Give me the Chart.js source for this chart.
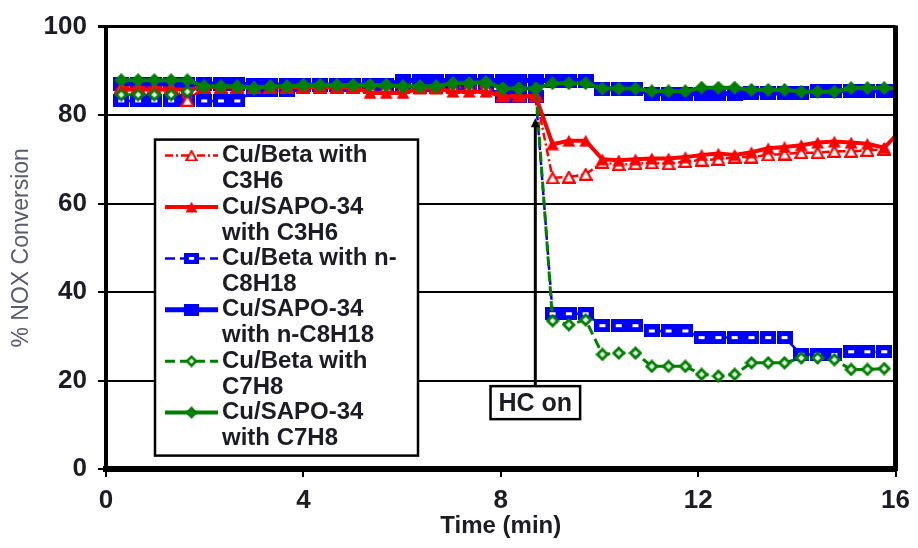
<!DOCTYPE html>
<html>
<head>
<meta charset="utf-8">
<script src="https://cdn.jsdelivr.net/npm/chart.js@4.4.1/dist/chart.umd.min.js"></script>
<style>
html,body{margin:0;padding:0;background:#fff;}
#wrap{width:918px;height:548px;}
</style>
</head>
<body>
<div id="wrap"><canvas id="c" width="918" height="548" style="width:918px;height:548px"></canvas></div>
<script>
// ---- data ----
const times = [0.31,0.65,0.98,1.32,1.65,1.99,2.33,2.66,3.0,3.33,3.67,4.0,4.34,4.68,5.01,5.35,5.68,6.02,6.36,6.69,7.03,7.36,7.7,8.04,8.37,8.71,9.05,9.38,9.72,10.06,10.39,10.73,11.06,11.4,11.74,12.07,12.41,12.74,13.08,13.42,13.75,14.09,14.42,14.76,15.1,15.43,15.77,16.1];

const betaC3H6 = [86.3,86.3,86.3,86.3,83.3,86.3,86.3,86.3,86.3,86.3,86.3,86.3,86.3,86.3,86.3,86.3,86.3,86.3,86.3,86.3,86.3,86.3,86.3,84.5,84.5,84.5,
  65.8,66.0,66.6,69.3,68.8,69.0,69.2,69.0,69.5,69.8,70.0,70.5,70.5,71.0,71.2,71.5,71.5,71.8,71.8,72.0,72.3];
const sapoC3H6 = [85.8,85.8,85.8,85.8,85.8,86.3,86.3,86.3,86.3,86.3,86.3,86.3,86.3,86.3,86.3,85.0,85.0,85.0,86.0,86.0,85.3,85.3,85.3,84.2,84.2,84.2,
  73.4,74.2,74.2,70.0,69.8,70.0,70.2,70.2,70.5,71.0,71.3,71.0,71.6,72.5,72.8,73.2,73.8,74.0,73.8,73.5,72.6,76.5];
const betaC8H18 = [83.2,83.2,83.2,83.2,83.2,83.2,83.2,83.2,85.5,85.5,85.5,86.6,86.6,86.6,86.6,86.6,86.6,86.6,86.6,86.6,86.6,86.6,86.6,84.2,84.2,84.2,
  35.1,35.1,35.1,32.4,32.4,32.4,31.2,31.2,31.2,29.7,29.7,29.7,29.7,29.7,29.7,25.9,25.9,25.9,26.5,26.5,26.5];
const sapoC8H18 = [87.0,87.0,87.0,87.0,87.0,87.0,87.0,87.0,86.8,86.8,86.8,86.8,86.8,86.8,86.8,86.8,86.8,87.8,87.8,87.8,87.8,87.8,87.8,87.8,87.8,87.8,
  87.8,87.8,87.8,85.9,85.9,85.9,84.8,84.8,84.8,84.8,84.8,84.8,85.0,85.0,85.0,85.0,85.5,85.5,85.5,85.5,85.5,85.5];
const betaC7H8 = [84.6,84.6,84.6,84.6,85.3,86.4,86.4,86.4,86.0,86.4,86.4,86.7,86.7,86.7,86.7,86.7,86.7,86.4,86.4,86.4,87.1,87.1,87.1,86.0,86.0,86.0,
  33.5,32.6,33.7,25.9,26.2,26.2,23.2,23.2,23.2,21.4,21.0,21.4,24.0,24.0,24.0,25.1,25.1,24.7,22.5,22.5,22.7];
const sapoC7H8 = [87.9,87.9,87.9,87.9,87.9,86.5,86.5,86.5,86.1,86.5,86.5,86.8,86.8,86.8,86.8,86.8,86.8,86.5,86.5,86.5,87.2,87.2,87.5,86.0,86.0,86.0,
  87.2,87.2,87.2,86.0,86.0,86.0,85.4,85.4,85.4,86.2,86.2,86.2,85.7,85.7,85.7,85.3,85.3,85.3,86.1,86.1,86.1,86.0];

const seriesLabels = [
  ['Cu/Beta with','C3H6'],
  ['Cu/SAPO-34','with C3H6'],
  ['Cu/Beta with n-','C8H18'],
  ['Cu/SAPO-34','with n-C8H18'],
  ['Cu/Beta with','C7H8'],
  ['Cu/SAPO-34','with C7H8']
];
const xTicks = [0,4,8,12,16];
const yTicks = [0,20,40,60,80,100];
const hcLabel = 'HC on';
const hcTime = 8.7;      // minutes
const hcArrowTip = 79.3; // % value where the arrow points
const hcBoxCenter = 15;  // % value of the label box centre

// ---- styling / markers ----
const RED='#ff0000', BLUE='#0000ff', GREEN='#008000';
const FONT = "'Liberation Sans', Arial, sans-serif";
const TXT = '#1c1c26';
function pts(vals){ return vals.map((v,i)=>({x:times[i], y:v})); }
function mk(w,h,draw){ const c=document.createElement('canvas'); c.width=w; c.height=h; draw(c.getContext('2d'),w,h); return c; }
const mRedBeta = mk(14,13,(g,w,h)=>{ g.beginPath(); g.moveTo(w/2,1.2); g.lineTo(w-1.2,h-1.2); g.lineTo(1.2,h-1.2); g.closePath(); g.fillStyle='#fff'; g.fill(); g.lineWidth=2.2; g.strokeStyle=RED; g.stroke(); });
const mRedSapo = mk(14,13,(g,w,h)=>{ g.beginPath(); g.moveTo(w/2,0.5); g.lineTo(w-0.5,h-0.5); g.lineTo(0.5,h-0.5); g.closePath(); g.fillStyle=RED; g.fill(); });
const mBlueBeta = mk(16,13,(g,w,h)=>{ g.fillStyle=BLUE; g.fillRect(0,0,w,h); g.fillStyle='#fff'; g.fillRect(5,5,6,3); });
const mBlueSapo = mk(16,14,(g,w,h)=>{ g.fillStyle=BLUE; g.fillRect(0,0,w,h); });
const mGreenBeta = mk(14,14,(g,w,h)=>{ g.beginPath(); g.moveTo(0,h/2); g.lineTo(w/2,0); g.lineTo(w,h/2); g.lineTo(w/2,h); g.closePath(); g.fillStyle=GREEN; g.fill();
  g.beginPath(); g.moveTo(4,h/2); g.lineTo(w/2,4); g.lineTo(w-4,h/2); g.lineTo(w/2,h-4); g.closePath(); g.fillStyle='#e6f2e6'; g.fill(); });
const mGreenSapo = mk(14,14,(g,w,h)=>{ g.beginPath(); g.moveTo(0,h/2); g.lineTo(w/2,0); g.lineTo(w,h/2); g.lineTo(w/2,h); g.closePath(); g.fillStyle=GREEN; g.fill(); });

const datasets = [
  {label:seriesLabels[0].join(' '), data:pts(betaC3H6), borderColor:RED, borderWidth:2.5, borderDash:[8,3,2,3], pointStyle:mRedBeta, pointRadius:6, order:3},
  {label:seriesLabels[1].join(' '), data:pts(sapoC3H6), borderColor:RED, borderWidth:4, pointStyle:mRedSapo, pointRadius:6, order:2},
  {label:seriesLabels[2].join(' '), data:pts(betaC8H18), borderColor:BLUE, borderWidth:2.5, borderDash:[10,5], pointStyle:mBlueBeta, pointRadius:7, order:4},
  {label:seriesLabels[3].join(' '), data:pts(sapoC8H18), borderColor:BLUE, borderWidth:5, pointStyle:mBlueSapo, pointRadius:7, order:5},
  {label:seriesLabels[4].join(' '), data:pts(betaC7H8), borderColor:GREEN, borderWidth:3, borderDash:[10,5], pointStyle:mGreenBeta, pointRadius:7, order:1},
  {label:seriesLabels[5].join(' '), data:pts(sapoC7H8), borderColor:GREEN, borderWidth:4, pointStyle:mGreenSapo, pointRadius:7, order:0}
];

const overlay = {
  id:'overlay',
  afterDatasetsDraw(chart){
    const {ctx, chartArea:ca, scales:{x:xs, y:ys}} = chart;
    ctx.save();
    // right border of plot area
    ctx.strokeStyle='#000'; ctx.lineWidth=5; ctx.setLineDash([]);
    ctx.beginPath(); ctx.moveTo(ca.right, ca.top-1); ctx.lineTo(ca.right, ca.bottom+2); ctx.stroke();

    // HC on annotation
    const hx = xs.getPixelForValue(hcTime);
    const tipY = ys.getPixelForValue(hcArrowTip);
    const boxCY = ys.getPixelForValue(hcBoxCenter);
    ctx.font = 'bold 25px ' + FONT;
    const tw = ctx.measureText(hcLabel).width;
    const bw = tw + 16, bh = 33;
    const bx = hx - bw/2, by = boxCY - bh/2;
    ctx.lineWidth = 3; ctx.strokeStyle='#000';
    ctx.beginPath(); ctx.moveTo(hx, by); ctx.lineTo(hx, tipY+6); ctx.stroke();
    ctx.fillStyle='#000';
    ctx.beginPath(); ctx.moveTo(hx, tipY); ctx.lineTo(hx-4.5, tipY+9); ctx.lineTo(hx+4.5, tipY+9); ctx.closePath(); ctx.fill();
    ctx.fillStyle='#fff'; ctx.fillRect(bx, by, bw, bh);
    ctx.lineWidth=2.5; ctx.strokeRect(bx, by, bw, bh);
    ctx.fillStyle=TXT; ctx.textAlign='center'; ctx.textBaseline='middle';
    ctx.fillText(hcLabel, hx, boxCY+1);

    // legend box
    const lx = ca.left + 49, ly = ca.top + 113, lw = 263, lh = 316;
    ctx.fillStyle='#fff'; ctx.fillRect(lx, ly, lw, lh);
    ctx.strokeStyle='#000'; ctx.lineWidth=2.5; ctx.strokeRect(lx, ly, lw, lh);
    ctx.font = 'bold 24px ' + FONT; ctx.textAlign='left'; ctx.textBaseline='middle';
    datasets.forEach((ds, i) => {
      const cy = ly + 16 + i*51.4;
      const x0 = lx + 10, x1 = lx + 63, mx = (x0+x1)/2;
      ctx.strokeStyle = ds.borderColor; ctx.lineWidth = ds.borderWidth;
      ctx.setLineDash(ds.borderDash || []);
      ctx.beginPath(); ctx.moveTo(x0, cy); ctx.lineTo(x1, cy); ctx.stroke();
      ctx.setLineDash([]);
      const im = ds.pointStyle;
      ctx.drawImage(im, mx - im.width*0.45, cy - im.height*0.45, im.width*0.9, im.height*0.9);
      ctx.fillStyle = TXT;
      ctx.fillText(seriesLabels[i][0], lx + 67, cy);
      ctx.fillText(seriesLabels[i][1], lx + 67, cy + 26);
    });
    ctx.restore();
  }
};

new Chart(document.getElementById('c'), {
  type:'line',
  data:{datasets},
  options:{
    responsive:false, animation:false, devicePixelRatio:1,
    layout:{padding:{top:21, right:14, left:0, bottom:0}},
    elements:{line:{tension:0}},
    plugins:{legend:{display:false}, tooltip:{enabled:false}},
    scales:{
      x:{type:'linear', min:0, max:16,
        afterFit(s){ s.height = 79; },
        afterBuildTicks(s){ s.ticks = xTicks.map(v=>({value:v})); },
        ticks:{font:{size:26, weight:'bold', family:FONT}, color:TXT, padding:8, maxRotation:0},
        grid:{drawOnChartArea:false, color:'#000', lineWidth:2, tickLength:8},
        border:{display:true, color:'#000', width:6},
        title:{display:true, text:'Time (min)', font:{size:24, weight:'bold', family:FONT}, color:TXT, padding:{top:0, bottom:7}}
      },
      y:{min:0, max:100,
        afterFit(s){ s.width = 106; },
        afterBuildTicks(s){ s.ticks = yTicks.map(v=>({value:v})); },
        ticks:{font:{size:26, weight:'bold', family:FONT}, color:TXT, padding:11},
        grid:{color:'#000', lineWidth:(c)=> c.tick && c.tick.value===100 ? 3 : 2, tickLength:8},
        border:{display:true, color:'#000', width:4},
        title:{display:true, text:'% NOX Conversion', font:{size:23, family:FONT}, color:'#5a5a72', padding:{top:8, bottom:0}}
      }
    }
  },
  plugins:[overlay]
});
</script>
</body>
</html>
